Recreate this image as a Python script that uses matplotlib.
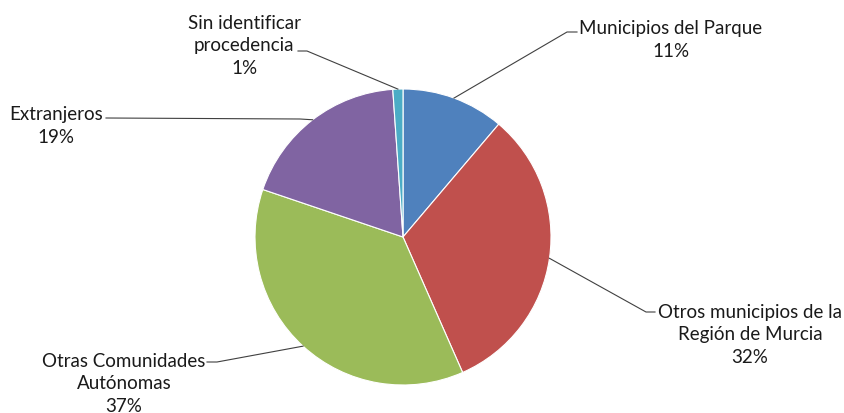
import matplotlib
matplotlib.use("Agg")
import matplotlib.pyplot as plt
import numpy as np

plt.rcParams["font.family"] = ["Lato", "DejaVu Sans"]

labels = [
    "Municipios del Parque",
    "Otros municipios de la\nRegión de Murcia",
    "Otras Comunidades\nAutónomas",
    "Extranjeros",
    "Sin identificar\nprocedencia",
]
shares = [11.2, 32.2, 36.8, 18.7, 1.1]
pct_labels = ["11%", "32%", "37%", "19%", "1%"]
colors = ["#4F81BD", "#C0504D", "#9BBB59", "#8064A2", "#4BACC6"]

W, H = 844, 414
CX, CY, R = 403, H - 238, 148

# label layout: text centre, elbow of leader, end of horizontal stub (pixels, y from top)
text_pos = [(671, 40), (750, 335), (124, 384), (56, 126), (244, 46)]
elbow = [(567, 33), (646, 313), (217, 363), (300, 120), (307, 52)]
stub = [(577, 33), (655, 313), (207, 363), (106, 119), (298, 52)]

fig = plt.figure(figsize=(W / 100, H / 100), dpi=100)
ax = fig.add_axes([0, 0, 1, 1])

wedges, _ = ax.pie(
    shares,
    colors=colors,
    startangle=90,
    counterclock=False,
    center=(CX, CY),
    radius=R,
    wedgeprops={"edgecolor": "white", "linewidth": 0.8},
)
ax.set_xlim(0, W)
ax.set_ylim(0, H)
ax.set_aspect("equal")
ax.axis("off")

for w, lab, pct, tp, el, st in zip(wedges, labels, pct_labels, text_pos, elbow, stub):
    ang = np.deg2rad((w.theta1 + w.theta2) / 2)
    px, py = CX + R * np.cos(ang), CY + R * np.sin(ang)
    ax.plot([px, el[0], st[0]], [py, H - el[1], H - st[1]], color="#404040", lw=0.8)
    ax.text(tp[0], H - tp[1], f"{lab}\n{pct}", ha="center", va="center",
            fontsize=13.5, color="#1a1a1a", linespacing=1.42)

fig.savefig("out.png", dpi=100)
